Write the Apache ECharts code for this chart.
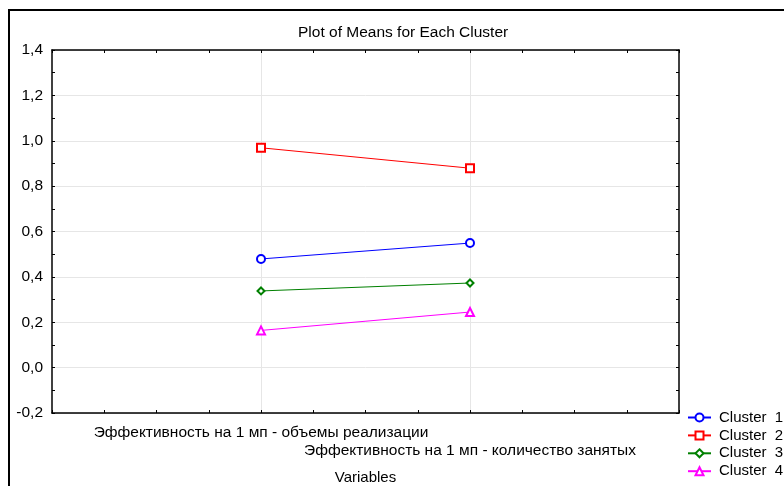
<!DOCTYPE html>
<html>
<head>
<meta charset="utf-8">
<script src="https://cdn.jsdelivr.net/npm/echarts@6/dist/echarts.min.js"></script>
<style>html,body{margin:0;padding:0;background:#fff;}#c{width:784px;height:486px;}</style>
</head>
<body>
<div id="c"></div>
<script>
const title = 'Plot of Means for Each Cluster';
const variables = ['Эффективность на 1 мп - объемы реализации', 'Эффективность на 1 мп - количество занятых'];
const axisName = 'Variables';
const seriesNames = ['Cluster  1', 'Cluster  2', 'Cluster  3', 'Cluster  4'];
const cluster1 = [0.479, 0.549];
const cluster2 = [0.969, 0.879];
const cluster3 = [0.338, 0.373];
const cluster4 = [0.164, 0.245];
const yTicks = [-0.2, 0, 0.2, 0.4, 0.6, 0.8, 1.0, 1.2, 1.4];

const FONT = 'Liberation Sans, Arial, sans-serif';
// 13 slot category axis; variables placed at slots 4 and 8
const slots = 13;
const varSlot = i => 4 + 4 * i;
const axisData = [];
for (let i = 0; i < slots; i++) axisData.push('');
variables.forEach((v, i) => { axisData[varSlot(i)] = v; });
const toPts = arr => arr.map((v, i) => [varSlot(i), v]);

const colors = ['#0000ff', '#ff0000', '#008000', '#ff00ff'];
const symbols = ['emptyCircle', 'emptyRect', 'emptyDiamond', 'emptyTriangle'];
const sizes = [8, 8, 7, 8];
const values = [cluster1, cluster2, cluster3, cluster4];

const chart = echarts.init(document.getElementById('c'), null, {renderer: 'canvas'});
const fmt = v => (Math.round(v * 10) / 10).toFixed(1).replace('.', ',');

chart.setOption({
  backgroundColor: '#fff',
  animation: false,
  title: {
    text: title, left: 298, top: 25, padding: 0,
    textStyle: {fontFamily: FONT, fontSize: 15.5, fontWeight: 'normal', color: '#000'}
  },
  grid: {left: 52, right: 105, top: 50, bottom: 73, containLabel: false, outerBoundsMode: 'none'},
  legend: {
    orient: 'vertical', left: 687, top: 410, padding: 0,
    itemWidth: 23, itemHeight: 10, itemGap: 2.9,
    textStyle: {fontFamily: FONT, fontSize: 15, color: '#000', lineHeight: 14, padding: [0, 0, 0, 3]},
    data: seriesNames
  },
  xAxis: [{
    type: 'category', data: axisData, boundaryGap: false, position: 'bottom',
    axisLine: {onZero: false, lineStyle: {color: '#000', width: 1.5}},
    axisTick: {show: true, inside: true, length: 3, interval: 0, lineStyle: {color: '#000'}},
    axisLabel: {
      interval: 0, margin: 11, color: '#000', fontFamily: FONT, fontSize: 15.5, lineHeight: 18,
      formatter: (v, i) => (i === varSlot(1) ? '\n' + v : v)
    },
    splitLine: {show: true, interval: (i, v) => v !== '', lineStyle: {color: '#e6e6e6', width: 1}},
    name: axisName, nameLocation: 'middle', nameGap: 57,
    nameTextStyle: {fontFamily: FONT, fontSize: 15, color: '#000'}
  }, {
    type: 'category', data: axisData, boundaryGap: false, position: 'top',
    axisLine: {onZero: false, lineStyle: {color: '#000', width: 1.5}},
    axisTick: {show: true, inside: true, length: 3, interval: 0, lineStyle: {color: '#000'}},
    axisLabel: {show: false},
    splitLine: {show: false}
  }],
  yAxis: [{
    type: 'value', min: yTicks[0], max: yTicks[yTicks.length - 1], interval: 0.2, position: 'left',
    axisLine: {show: true, onZero: false, lineStyle: {color: '#000', width: 1.5}},
    axisTick: {show: true, inside: true, length: 3, lineStyle: {color: '#000'}},
    minorTick: {show: true, splitNumber: 2, length: 3, lineStyle: {color: '#000'}},
    axisLabel: {margin: 9, color: '#000', fontFamily: FONT, fontSize: 15.5, formatter: fmt},
    splitLine: {show: true, lineStyle: {color: '#e6e6e6', width: 1}}
  }, {
    type: 'value', min: yTicks[0], max: yTicks[yTicks.length - 1], interval: 0.1, position: 'right',
    axisLine: {show: true, onZero: false, lineStyle: {color: '#000', width: 1.5}},
    axisTick: {show: true, inside: true, length: 3, lineStyle: {color: '#000'}},
    axisLabel: {show: false},
    splitLine: {show: false}
  }],
  graphic: [{
    type: 'rect', shape: {x: 9, y: 10, width: 1000, height: 1000},
    style: {fill: 'none', stroke: '#000', lineWidth: 2}, silent: true
  }],
  series: values.map((arr, i) => ({
    name: seriesNames[i], type: 'line', data: toPts(arr),
    symbol: symbols[i], symbolSize: sizes[i],
    lineStyle: {color: colors[i], width: 1},
    itemStyle: {color: colors[i], borderWidth: 1},
    emphasis: {disabled: true}
  }))
});
</script>
</body>
</html>
